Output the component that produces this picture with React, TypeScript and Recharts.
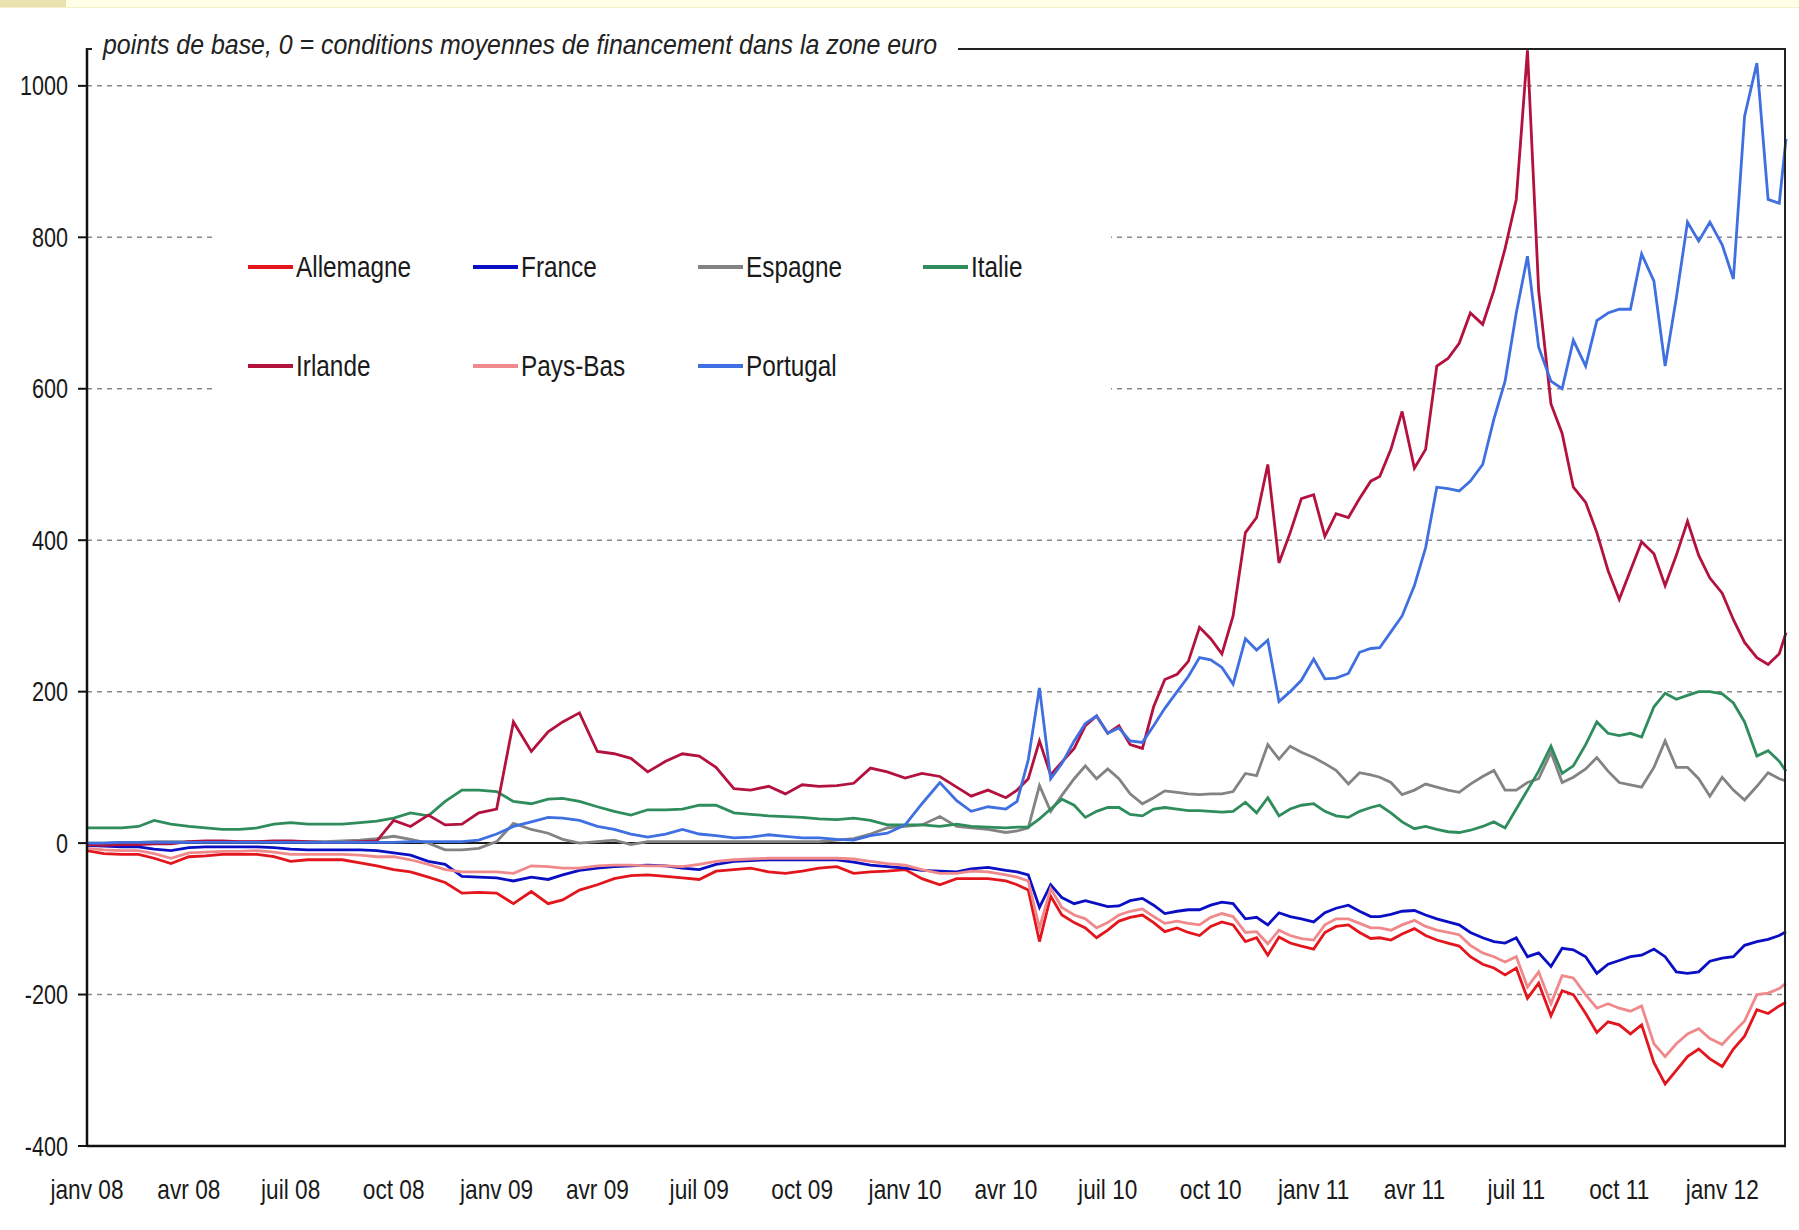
import { CartesianGrid, Line, LineChart, ReferenceLine, XAxis, YAxis } from 'recharts';

const DATES = [
  '2008-01-01', '2008-01-16', '2008-02-01', '2008-02-16', '2008-03-01', '2008-03-16', '2008-04-01', '2008-04-16',
  '2008-05-01', '2008-05-16', '2008-06-01', '2008-06-16', '2008-07-01', '2008-07-16', '2008-08-01', '2008-08-16',
  '2008-09-01', '2008-09-16', '2008-10-01', '2008-10-16', '2008-11-01', '2008-11-16', '2008-12-01', '2008-12-16',
  '2009-01-01', '2009-01-16', '2009-02-01', '2009-02-16', '2009-03-01', '2009-03-16', '2009-04-01', '2009-04-16',
  '2009-05-01', '2009-05-16', '2009-06-01', '2009-06-16', '2009-07-01', '2009-07-16', '2009-08-01', '2009-08-16',
  '2009-09-01', '2009-09-16', '2009-10-01', '2009-10-16', '2009-11-01', '2009-11-16', '2009-12-01', '2009-12-16',
  '2010-01-01', '2010-01-16', '2010-02-01', '2010-02-16', '2010-03-01', '2010-03-16',
  '2010-04-01', '2010-04-11', '2010-04-21', '2010-05-01', '2010-05-11', '2010-05-21', '2010-06-01', '2010-06-11', '2010-06-21',
  '2010-07-01', '2010-07-11', '2010-07-21', '2010-08-01', '2010-08-11', '2010-08-21', '2010-09-01', '2010-09-11', '2010-09-21',
  '2010-10-01', '2010-10-11', '2010-10-21', '2010-11-01', '2010-11-11', '2010-11-21', '2010-12-01', '2010-12-11', '2010-12-21',
  '2011-01-01', '2011-01-11', '2011-01-21', '2011-02-01', '2011-02-11', '2011-02-21', '2011-03-01', '2011-03-11', '2011-03-21',
  '2011-04-01', '2011-04-11', '2011-04-21', '2011-05-01', '2011-05-11', '2011-05-21', '2011-06-01', '2011-06-11', '2011-06-21',
  '2011-07-01', '2011-07-11', '2011-07-21', '2011-08-01', '2011-08-11', '2011-08-21', '2011-09-01', '2011-09-11', '2011-09-21',
  '2011-10-01', '2011-10-11', '2011-10-21', '2011-11-01', '2011-11-11', '2011-11-21', '2011-12-01', '2011-12-11', '2011-12-21',
  '2012-01-01', '2012-01-11', '2012-01-21', '2012-02-01', '2012-02-11', '2012-02-21', '2012-02-27'
];

// points de base, one value per date above
const ALLEMAGNE = [
  -10, -14, -15, -15, -20, -27, -18, -17, -15, -15, -15, -18, -24, -22, -22, -22, -26, -30, -35, -38, -45, -52, -66, -65,
  -66, -80, -64, -80, -75, -62, -55, -47, -43, -42, -44, -46, -48, -37, -35, -33, -38, -40, -37, -33, -31, -40, -38, -37,
  -35, -47, -55, -47, -47, -47,
  -50, -55, -62, -130, -70, -95, -105, -112, -125, -115, -103, -98, -95, -105, -117, -112, -118, -122, -110, -104, -108, -130, -125, -148, -124, -132, -136,
  -140, -118, -110, -108, -118, -126, -125, -128, -120, -113, -122, -128, -132, -136, -150, -160, -165, -174,
  -165, -205, -185, -228, -195, -200, -225, -250, -236, -240, -252, -240, -290, -318, -300, -282, -272, -285,
  -295, -272, -255, -220, -225, -215, -210
];
const FRANCE = [
  -3, -4, -5, -5, -8, -10, -6, -5, -5, -5, -5, -6, -8, -9, -9, -9, -9, -10, -13, -16, -24, -28, -44, -45,
  -46, -50, -45, -48, -42, -36, -33, -31, -30, -29, -30, -33, -35, -28, -24, -23, -22, -22, -22, -22, -22, -25, -29, -31,
  -33, -36, -37, -38, -34, -32,
  -36, -38, -42, -85, -55, -72, -80, -76, -80, -84, -83, -76, -73, -82, -93, -90, -88, -88, -82, -78, -80, -100, -98, -108, -92, -97, -100,
  -104, -92, -86, -82, -90, -97, -97, -94, -90, -89, -95, -100, -104, -108, -118, -125, -130, -132,
  -125, -150, -145, -163, -139, -141, -150, -172, -160, -155, -150, -148, -140, -150, -170, -172, -170, -156,
  -152, -150, -135, -130, -127, -122, -117
];
const ESPAGNE = [
  0, 0, 1, 1, 2, 2, 2, 2, 2, 2, 2, 2, 2, 2, 2, 3, 4, 6, 9, 5, 0, -9, -9, -7,
  2, 26, 18, 13, 5, 0, 2, 4, -2, 2, 2, 2, 2, 2, 2, 2, 2, 2, 2, 2, 4, 6, 12, 20,
  22, 24, 35, 22, 20, 18,
  14, 16, 20, 76, 42, 63, 85, 102, 85, 98, 85, 65, 52, 60, 69, 67, 65, 64, 65, 65, 68, 92, 89, 130, 111, 128, 120,
  113, 105, 96, 78, 93, 90, 87, 80, 64, 70, 78, 74, 70, 67, 78, 88, 96, 70,
  70, 80, 85, 120, 80, 87, 98, 113, 95, 80, 77, 74, 100, 135, 100, 100, 85, 62,
  87, 70, 57, 75, 93, 85, 82
];
const ITALIE = [
  20, 20, 20, 22, 30, 25, 22, 20, 18, 18, 20, 25, 27, 25, 25, 25, 27, 29, 33, 40, 36, 55, 70, 70,
  68, 55, 52, 58, 59, 55, 48, 42, 37, 44, 44, 45, 50, 50, 40, 38, 36, 35, 34, 32, 31, 33, 30, 24,
  24, 24, 22, 25, 22, 21,
  20, 21, 21, 32, 45, 58, 50, 34, 42, 47, 47, 38, 36, 45, 47, 45, 43, 43, 42, 41, 42, 54, 40, 60, 36, 45, 50,
  52, 42, 36, 34, 42, 47, 50, 40, 28, 19, 22, 18, 15, 14, 17, 22, 28, 20,
  45, 70, 95, 128, 92, 102, 130, 160, 145, 142, 145, 140, 180, 198, 190, 195, 200, 200,
  197, 185, 160, 115, 122, 108, 95
];
const IRLANDE = [
  -2, -3, -2, -2, -1, -1, 2, 3, 3, 2, 2, 3, 3, 2, 1, 1, 2, 3, 30, 22, 37, 24, 25, 40,
  45, 160, 121, 147, 160, 172, 121, 118, 112, 94, 108, 118, 115, 100, 72, 70, 75, 65, 77, 75, 76, 79, 99, 94,
  86, 92, 88, 74, 62, 70,
  60, 70, 85, 135, 90, 107, 125, 155, 168, 145, 155, 130, 125, 180, 216, 223, 240, 285, 270, 250, 300, 410, 430, 500, 370, 410, 455,
  460, 405, 435, 430, 455, 478, 484, 520, 570, 495, 520, 630, 640, 660, 700, 685, 730, 785,
  850, 1047, 730, 580, 541, 470, 450, 410, 360, 322, 360, 398, 382, 340, 380, 425, 380, 350,
  330, 295, 265, 245, 236, 250, 278
];
const PAYS_BAS = [
  -7, -9, -10, -10, -14, -20, -13, -12, -11, -11, -10, -12, -15, -15, -15, -15, -16, -18, -18, -22, -28, -35, -38, -38,
  -38, -40, -30, -31, -33, -33, -30, -29, -29, -30, -30, -31, -28, -24, -22, -21, -20, -20, -20, -20, -20, -21, -24, -27,
  -29, -35, -40, -40, -37, -38,
  -42, -45, -50, -112, -60, -85, -95, -100, -112, -105, -95, -90, -87, -97, -106, -103, -106, -108, -98, -93, -97, -118, -117, -133, -115, -122, -126,
  -128, -108, -100, -100, -106, -112, -112, -115, -108, -102, -110, -115, -118, -121, -135, -145, -150, -157,
  -150, -190, -170, -212, -175, -178, -200, -218, -212, -218, -222, -215, -265, -282, -265, -252, -245, -258,
  -266, -250, -235, -200, -198, -192, -185
];
const PORTUGAL = [
  0, 0, 1, 1, 1, 1, 1, 1, 1, 1, 1, 1, 1, 1, 1, 1, 1, 1, 1, 2, 2, 2, 2, 4,
  12, 22, 28, 34, 33, 30, 22, 18, 12, 8, 12, 18, 12, 10, 7, 8, 11, 9, 7, 7, 5, 4, 10, 13,
  24, 52, 80, 56, 42, 48,
  45, 55, 110, 205, 85, 105, 135, 158, 168, 145, 152, 135, 133, 155, 178, 200, 220, 245, 242, 232, 210, 270, 255, 268, 187, 200, 215,
  243, 217, 218, 224, 252, 257, 258, 279, 300, 340, 390, 470, 468, 465, 478, 500, 560, 610,
  700, 775, 655, 610, 600, 664, 630, 690, 700, 705, 705, 778, 742, 630, 720, 820, 795, 820,
  790, 745, 960, 1030, 850, 845, 930
];

const X_TICKS = [
  '2008-01-01', '2008-04-01', '2008-07-01', '2008-10-01', '2009-01-01', '2009-04-01', '2009-07-01', '2009-10-01',
  '2010-01-01', '2010-04-01', '2010-07-01', '2010-10-01', '2011-01-01', '2011-04-01', '2011-07-01', '2011-10-01', '2012-01-01'
];
const X_TICK_LABELS = [
  'janv 08', 'avr 08', 'juil 08', 'oct 08', 'janv 09', 'avr 09', 'juil 09', 'oct 09',
  'janv 10', 'avr 10', 'juil 10', 'oct 10', 'janv 11', 'avr 11', 'juil 11', 'oct 11', 'janv 12'
];
const Y_TICKS = [-400, -200, 0, 200, 400, 600, 800, 1000];
const GRID_VALUES = [-200, 200, 400, 600, 800, 1000];

const SERIES = [
  { key: 'allemagne', name: 'Allemagne', color: '#E3161D', values: ALLEMAGNE },
  { key: 'france', name: 'France', color: '#0B0FC4', values: FRANCE },
  { key: 'espagne', name: 'Espagne', color: '#838383', values: ESPAGNE },
  { key: 'italie', name: 'Italie', color: '#2F8C5C', values: ITALIE },
  { key: 'irlande', name: 'Irlande', color: '#B3123E', values: IRLANDE },
  { key: 'paysBas', name: 'Pays-Bas', color: '#F0898B', values: PAYS_BAS },
  { key: 'portugal', name: 'Portugal', color: '#3F6FE0', values: PORTUGAL }
];

const FONT = '"Liberation Sans", Arial, sans-serif';
const TEXT = '#1a1a1a';
const ORIGIN = Date.UTC(2008, 0, 1);
const toDay = (iso: string) => {
  const [y, m, d] = iso.split('-').map(Number);
  return Math.round((Date.UTC(y, m - 1, d) - ORIGIN) / 86400000);
};

const data = DATES.map((iso, i) => {
  const row: Record<string, number> = { t: toDay(iso) };
  SERIES.forEach((s) => { row[s.key] = s.values[i]; });
  return row;
});
const tickDays = X_TICKS.map(toDay);
const tickLabel = (v: number) => X_TICK_LABELS[tickDays.indexOf(v)] ?? '';

// narrow-looking labels: the source font is condensed, so squeeze Liberation Sans horizontally
function XTick({ x, y, payload }: any) {
  return (
    <text transform={`translate(${x},${y}) scale(0.84,1)`} textAnchor="middle" dy="0.71em" fontFamily={FONT} fontSize={27} fill={TEXT}>
      {tickLabel(payload.value)}
    </text>
  );
}

function YTick({ x, y, payload }: any) {
  return (
    <text transform={`translate(${x},${y}) scale(0.8,1)`} textAnchor="end" dy="0.355em" fontFamily={FONT} fontSize={27} fill={TEXT}>
      {payload.value}
    </text>
  );
}

export default function App() {
  return (
    <div style={{ position: 'relative', width: 1783, height: 1214, background: '#fff' }}>
      <div style={{ position: 'fixed', left: 0, top: 0, width: 1799, height: 7, background: '#FFFFE8', borderBottom: '1px solid #F3EFC8' }}>
        <div style={{ width: 66, height: 7, background: '#E9E2AE' }} />
      </div>
      <LineChart width={1783} height={1214} data={data} margin={{ top: 40, right: 5, bottom: 16, left: 0 }}>
        <CartesianGrid vertical={false} horizontalValues={GRID_VALUES} stroke="#8a8a8a" strokeWidth={1.5} strokeDasharray="5 5" />
        <XAxis
          type="number"
          dataKey="t"
          domain={[0, 1518]}
          ticks={tickDays}
          height={60}
          tickLine={false}
          tickSize={0}
          tickMargin={34}
          axisLine={{ stroke: '#111', strokeWidth: 2.5 }}
          tick={<XTick />}
          interval={0}
        />
        <YAxis
          type="number"
          domain={[-400, 1050]}
          ticks={Y_TICKS}
          width={79}
          tickSize={9}
          tickMargin={10}
          axisLine={{ stroke: '#111', strokeWidth: 2.5 }}
          tickLine={{ stroke: '#111', strokeWidth: 2 }}
          tick={<YTick />}
          interval={0}
          allowDataOverflow
        />
        <ReferenceLine y={0} stroke="#1a1a1a" strokeWidth={2} />
        {SERIES.map((s) => (
          <Line key={s.key} type="linear" dataKey={s.key} name={s.name} stroke={s.color} strokeWidth={2.8} dot={false} isAnimationActive={false} />
        ))}
      </LineChart>
      <div style={{ position: 'absolute', left: 79, top: 40, width: 1699, height: 1098, boxSizing: 'border-box', borderTop: '2px solid #222', borderRight: '2px solid #222', pointerEvents: 'none' }} />
      <svg style={{ position: 'absolute', left: 84, top: 18 }} width={1100} height={38}>
        <rect x={0} y={0} width={866} height={38} fill="#fff" />
        <text x={11} y={28} textLength={834} lengthAdjust="spacingAndGlyphs" fontFamily={FONT} fontStyle="italic" fontSize={28} fill="#222">
          points de base, 0 = conditions moyennes de financement dans la zone euro
        </text>
      </svg>
      <div style={{ position: 'absolute', left: 205, top: 216, width: 898, height: 178, background: '#fff' }}>
        {SERIES.map((s, i) => (
          <div key={s.key} style={{ position: 'absolute', left: 35 + (i % 4) * 225, top: (i < 4 ? 43 : 142) - 18, height: 36, display: 'flex', alignItems: 'center', whiteSpace: 'nowrap' }}>
            <span style={{ display: 'inline-block', width: 45, height: 4, background: s.color, marginRight: 3 }} />
            <span style={{ display: 'inline-block', fontFamily: FONT, fontSize: 29, color: TEXT, transform: 'scaleX(0.84)', transformOrigin: 'left center' }}>{s.name}</span>
          </div>
        ))}
      </div>
    </div>
  );
}
